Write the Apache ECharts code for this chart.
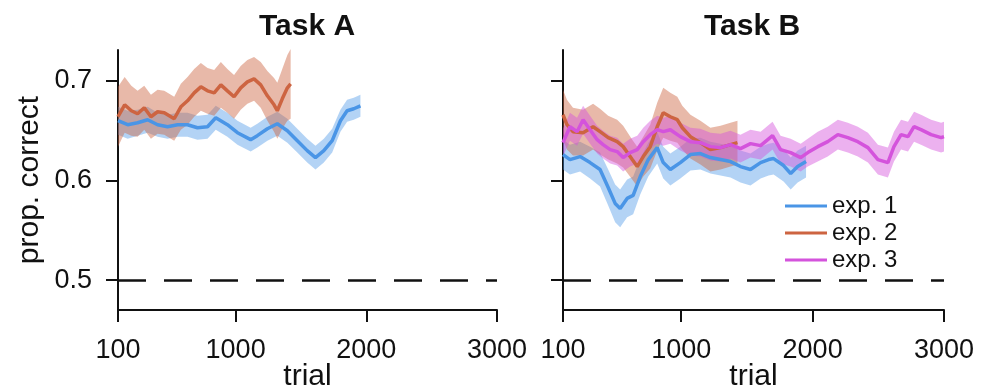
<!DOCTYPE html>
<html><head><meta charset="utf-8">
<script src="https://cdn.jsdelivr.net/npm/echarts@6/dist/echarts.min.js"></script>
<style>html,body{margin:0;padding:0;background:#fff}#c{width:984px;height:390px}</style>
</head><body><div id="c"></div>
<script>
// ---- tick labels / constants ----
const xTicks = [100, 1000, 2000, 3000];
const yTicks = [0.5, 0.6, 0.7];
const chanceLevel = 0.5;
const panelTitles = ['Task A', 'Task B'];
const seriesNames = ['exp. 1', 'exp. 2', 'exp. 3'];

// ---- Task A, exp. 1 ----
const taskA_exp1_trial = [100,174,250,327,403,479,556,632,708,785,848,937,1014,1115,1166,1243,1319,1396,1472,1548,1611,1675,1739,1802,1853,1904,1955];
const taskA_exp1_mean  = [0.660,0.656,0.658,0.661,0.656,0.654,0.656,0.656,0.653,0.654,0.663,0.656,0.648,0.641,0.645,0.652,0.657,0.650,0.640,0.630,0.623,0.630,0.640,0.660,0.670,0.672,0.675];
const taskA_exp1_err   = [0.014,0.014,0.013,0.013,0.012,0.012,0.012,0.012,0.012,0.012,0.012,0.012,0.012,0.012,0.012,0.012,0.012,0.012,0.012,0.012,0.012,0.012,0.012,0.011,0.011,0.011,0.011];

// ---- Task A, exp. 2 ----
const taskA_exp2_trial = [100,151,202,250,301,352,403,454,530,581,632,683,734,785,836,887,937,988,1039,1090,1141,1192,1243,1294,1319,1357,1396,1421];
const taskA_exp2_mean  = [0.664,0.676,0.670,0.667,0.673,0.664,0.669,0.668,0.662,0.674,0.680,0.688,0.694,0.690,0.688,0.696,0.690,0.684,0.693,0.699,0.702,0.696,0.685,0.676,0.670,0.682,0.693,0.697];
const taskA_exp2_err   = [0.030,0.028,0.025,0.023,0.022,0.022,0.022,0.022,0.022,0.023,0.024,0.024,0.024,0.023,0.023,0.023,0.022,0.022,0.022,0.022,0.022,0.023,0.025,0.027,0.028,0.030,0.033,0.035];

// ---- Task B, exp. 1 ----
const taskB_exp1_trial = [100,153,230,306,382,444,497,535,588,634,688,749,817,863,917,993,1070,1146,1222,1299,1375,1451,1527,1604,1665,1703,1779,1833,1886,1950];
const taskB_exp1_mean  = [0.626,0.621,0.624,0.618,0.611,0.593,0.577,0.572,0.582,0.585,0.604,0.621,0.633,0.618,0.611,0.618,0.626,0.627,0.623,0.621,0.619,0.614,0.611,0.618,0.621,0.622,0.615,0.607,0.614,0.619];
const taskB_exp1_err   = [0.015,0.015,0.015,0.016,0.017,0.018,0.019,0.019,0.019,0.019,0.018,0.017,0.016,0.016,0.016,0.016,0.016,0.016,0.016,0.016,0.016,0.016,0.016,0.016,0.016,0.016,0.016,0.016,0.016,0.016];

// ---- Task B, exp. 2 ----
const taskB_exp2_trial = [100,130,176,253,329,382,444,512,558,627,665,711,764,817,863,917,970,1008,1070,1146,1222,1299,1375,1428];
const taskB_exp2_mean  = [0.666,0.656,0.649,0.648,0.654,0.649,0.643,0.639,0.634,0.621,0.614,0.624,0.634,0.654,0.668,0.664,0.661,0.653,0.644,0.638,0.631,0.633,0.636,0.638];
const taskB_exp2_err   = [0.025,0.025,0.024,0.023,0.023,0.023,0.022,0.022,0.021,0.020,0.020,0.020,0.022,0.024,0.025,0.024,0.023,0.022,0.022,0.022,0.022,0.022,0.022,0.022];

// ---- Task B, exp. 3 ----
const taskB_exp3_trial = [100,153,207,253,306,360,405,459,512,558,611,665,711,764,817,863,917,993,1070,1146,1222,1299,1375,1451,1527,1604,1695,1756,1833,1909,1963,2039,2115,2192,2268,2344,2421,2497,2573,2619,2673,2726,2772,2825,2902,2978,3000];
const taskB_exp3_mean  = [0.638,0.654,0.649,0.661,0.651,0.641,0.636,0.631,0.629,0.623,0.628,0.631,0.639,0.646,0.651,0.649,0.651,0.644,0.639,0.638,0.634,0.633,0.636,0.632,0.637,0.635,0.645,0.631,0.628,0.623,0.628,0.634,0.639,0.646,0.643,0.639,0.633,0.621,0.618,0.634,0.646,0.644,0.654,0.651,0.646,0.643,0.644];
const taskB_exp3_err   = [0.014,0.014,0.014,0.014,0.014,0.014,0.014,0.014,0.014,0.014,0.014,0.014,0.014,0.014,0.014,0.014,0.014,0.014,0.014,0.014,0.014,0.014,0.014,0.014,0.014,0.014,0.014,0.014,0.014,0.014,0.014,0.015,0.015,0.015,0.015,0.015,0.015,0.015,0.015,0.015,0.015,0.015,0.015,0.015,0.015,0.015,0.015];

const lineColors = ['#4a95e6', '#cd6441', '#d453dc'];
const bandColors = ['rgba(74,149,230,0.42)', 'rgba(205,100,65,0.45)', 'rgba(212,83,220,0.45)'];

const FONT = 'Liberation Sans, Arial, Helvetica, sans-serif';
const series = [];
function addSeries(panel, idx, trials, mean, err, withChance) {
  const bandData = trials.map((t,i)=>[t, mean[i]-err[i], mean[i]+err[i]]);
  series.push({type:'custom', xAxisIndex:panel, yAxisIndex:panel, silent:true, z:2,
    data: bandData, encode:{x:0, y:[1,2]},
    renderItem: function(params, api) {
      if (params.dataIndex !== 0) return null;
      const pts = [];
      for (let i = 0; i < bandData.length; i++) pts.push(api.coord([bandData[i][0], bandData[i][2]]));
      for (let i = bandData.length - 1; i >= 0; i--) pts.push(api.coord([bandData[i][0], bandData[i][1]]));
      return {type:'polygon', shape:{points:pts}, style:{fill:bandColors[idx], stroke:null}};
    }});
  const s = {type:'line', name:seriesNames[idx], xAxisIndex:panel, yAxisIndex:panel, symbol:'none',
    data: trials.map((t,i)=>[t, mean[i]]), lineStyle:{color:lineColors[idx], width:3.5}, itemStyle:{color:lineColors[idx]}, z:2};
  if (withChance) {
    s.markLine = {silent:true, symbol:['none','none'], label:{show:false},
      lineStyle:{color:'#111', type:[28,18], width:2.5}, data:[{yAxis:chanceLevel}]};
  }
  series.push(s);
}
addSeries(0, 0, taskA_exp1_trial, taskA_exp1_mean, taskA_exp1_err, true);
addSeries(0, 1, taskA_exp2_trial, taskA_exp2_mean, taskA_exp2_err, false);
addSeries(1, 0, taskB_exp1_trial, taskB_exp1_mean, taskB_exp1_err, true);
addSeries(1, 1, taskB_exp2_trial, taskB_exp2_mean, taskB_exp2_err, false);
addSeries(1, 2, taskB_exp3_trial, taskB_exp3_mean, taskB_exp3_err, false);

function xAxis(gi) {
  return {type:'value', gridIndex:gi, min:100, max:3000,
    axisLine:{show:true, onZero:false, lineStyle:{color:'#111', width:2}},
    axisTick:{show:true, customValues:xTicks, length:12, inside:false, lineStyle:{color:'#111', width:2}},
    axisLabel:{customValues:xTicks, fontSize:27, color:'#111', margin:27, fontFamily:FONT,
      formatter:(v)=>String(v)},
    splitLine:{show:false},
    name:'trial', nameLocation:'middle', nameGap:52, nameMoveOverlap:false,
    nameTextStyle:{fontSize:30, color:'#111', fontFamily:FONT}};
}
function yAxis(gi) {
  return {type:'value', gridIndex:gi, min:0.47, max:0.731,
    axisLine:{show:true, onZero:false, lineStyle:{color:'#111', width:2}},
    axisTick:{show:true, customValues:yTicks, length:12, inside:false, lineStyle:{color:'#111', width:2}},
    axisLabel:{show: gi===0, customValues:yTicks, fontSize:27, color:'#111', margin:26, fontFamily:FONT,
      formatter:(v)=>v.toFixed(1)},
    splitLine:{show:false},
    name: gi===0 ? 'prop. correct' : '', nameLocation:'middle', nameGap:73, nameMoveOverlap:false,
    nameTextStyle:{fontSize:30, color:'#111', fontFamily:FONT}};
}

const chart = echarts.init(document.getElementById('c'), null, {renderer:'canvas'});
chart.setOption({
  animation:false,
  backgroundColor:'#fff',
  textStyle:{fontFamily:FONT},
  title: panelTitles.map((t,i)=>({text:t, left: i===0 ? 307 : 752, top:12, textAlign:'center', padding:0,
    textStyle:{fontSize:30, fontWeight:'bold', color:'#111', fontFamily:FONT}})),
  legend:{data:seriesNames, orient:'vertical', left:785, top:194, itemWidth:42, itemHeight:3, itemGap:3,
    icon:'rect', textStyle:{fontSize:24, color:'#111', fontFamily:FONT}, padding:0},
  grid:[
    {left:118, top:50, width:379, height:260, containLabel:false, outerBoundsMode:'none'},
    {left:563, top:50, width:381, height:260, containLabel:false, outerBoundsMode:'none'}
  ],
  xAxis:[xAxis(0), xAxis(1)],
  yAxis:[yAxis(0), yAxis(1)],
  series: series
});
</script></body></html>
